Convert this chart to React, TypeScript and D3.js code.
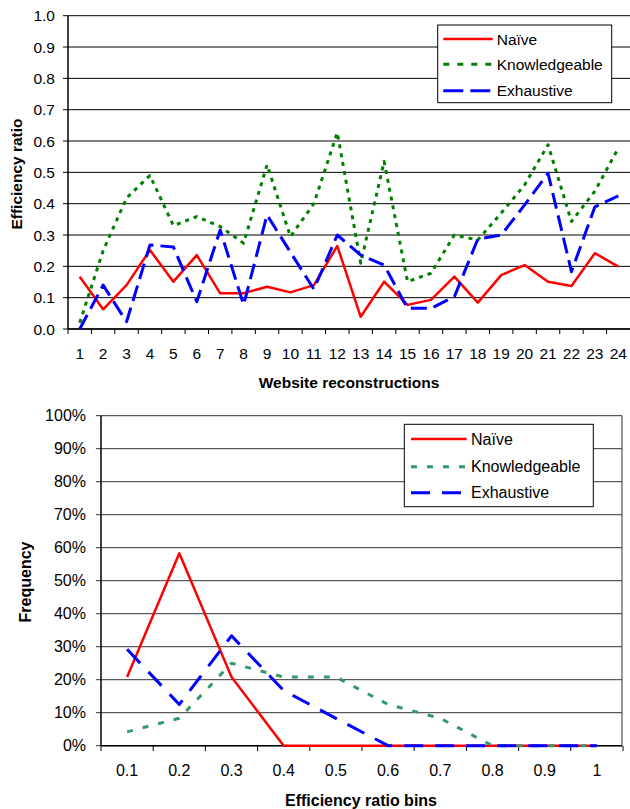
import React from 'react';
import * as d3 from 'd3';

const sites = d3.range(1, 25).map(String);
const naive = [0.167, 0.063, 0.14, 0.252, 0.151, 0.236, 0.114, 0.114, 0.135, 0.117, 0.14, 0.265, 0.039, 0.151, 0.077, 0.093, 0.167, 0.084, 0.172, 0.204, 0.151, 0.137, 0.242, 0.199];
const knowledgeable = [0.02, 0.25, 0.418, 0.49, 0.33, 0.359, 0.327, 0.274, 0.524, 0.295, 0.4, 0.627, 0.21, 0.535, 0.151, 0.178, 0.3, 0.284, 0.37, 0.46, 0.588, 0.343, 0.44, 0.577];
const exhaustive = [0.0, 0.14, 0.023, 0.268, 0.262, 0.087, 0.316, 0.077, 0.364, 0.245, 0.127, 0.3, 0.236, 0.204, 0.066, 0.066, 0.103, 0.287, 0.3, 0.396, 0.497, 0.183, 0.39, 0.425];
const topTicks = [0, 0.1, 0.2, 0.3, 0.4, 0.5, 0.6, 0.7, 0.8, 0.9, 1.0];

const bins = ['0.1', '0.2', '0.3', '0.4', '0.5', '0.6', '0.7', '0.8', '0.9', '1'];
const naiveFreq = [20.8, 58.3, 20.8, 0, 0, 0, 0, 0, 0, 0];
const knowFreq = [4.2, 8.3, 25, 20.8, 20.8, 12.5, 8.3, 0, 0, 0];
const exhFreq = [29.2, 12.5, 33.3, 16.7, 8.3, 0, 0, 0, 0, 0];
const bottomTicks = [0, 10, 20, 30, 40, 50, 60, 70, 80, 90, 100];

const seriesNames = ['Naïve', 'Knowledgeable', 'Exhaustive'];

const FONT = '"Liberation Sans", Arial, sans-serif';

export default function App() {
  // top chart
  const x1 = d3.scaleBand<string>().domain(sites).range([68, 630]).padding(0);
  const y1 = d3.scaleLinear().domain([0, 1]).range([329, 15.7]);
  const line1 = d3.line<number>().x((_, i) => (x1(sites[i]) as number) + x1.bandwidth() / 2).y((d) => y1(d));

  // bottom chart
  const x2 = d3.scaleBand<string>().domain(bins).range([101, 623]).padding(0);
  const y2 = d3.scaleLinear().domain([0, 100]).range([745.7, 415.7]);
  const line2 = d3.line<number>().x((_, i) => (x2(bins[i]) as number) + x2.bandwidth() / 2).y((d) => y2(d));

  const topStyles = [
    { color: '#FF0000', dash: undefined, legendDash: undefined, width: 2.5 },
    { color: '#008000', dash: '4,5', legendDash: '6,8', width: 3 },
    { color: '#0000FF', dash: '16,7', legendDash: '20,7', width: 3 },
  ];
  const botStyles = [
    { color: '#FF0000', dash: undefined, legendDash: undefined, width: 2.5 },
    { color: '#339966', dash: '6,10', legendDash: '6,10', width: 3 },
    { color: '#0000FF', dash: '19,12', legendDash: '19,12', width: 3 },
  ];
  const topData = [naive, knowledgeable, exhaustive];
  const botData = [naiveFreq, knowFreq, exhFreq];

  return (
    <svg width={630} height={809} style={{ position: 'absolute', left: 0, top: 0, background: '#fff' }} fontFamily={FONT}>
      <rect x={0} y={0} width={630} height={809} fill="#fff" />
      {/* ===== TOP CHART ===== */}
      {topTicks.map((t) => (
        <g key={'tg' + t}>
          <line x1={63} x2={630} y1={y1(t)} y2={y1(t)} stroke="#000" strokeWidth={1} />
          <text x={55} y={y1(t)} dy="0.36em" textAnchor="end" fontSize={15.5} fill="#000">{t.toFixed(1)}</text>
        </g>
      ))}
      <line x1={68} x2={68} y1={y1(1)} y2={y1(0)} stroke="#000" strokeWidth={1.5} />
      <line x1={68} x2={630} y1={y1(0)} y2={y1(0)} stroke="#000" strokeWidth={1.5} />
      {sites.map((s) => (
        <g key={'tx' + s}>
          <line x1={x1(s) as number} x2={x1(s) as number} y1={329} y2={334} stroke="#000" strokeWidth={1} />
          <text x={(x1(s) as number) + x1.bandwidth() / 2} y={353} dy="0.36em" textAnchor="middle" fontSize={15.5} fill="#000">{s}</text>
        </g>
      ))}
      <text x={349} y={382} dy="0.36em" textAnchor="middle" fontSize={15.5} fontWeight="bold" fill="#000">Website reconstructions</text>
      <text transform={`translate(16,174) rotate(-90)`} dy="0.36em" textAnchor="middle" fontSize={15.5} fontWeight="bold" fill="#000">Efficiency ratio</text>
      {topData.map((d, i) => (
        <path key={'tl' + i} d={line1(d) as string} fill="none" stroke={topStyles[i].color} strokeWidth={topStyles[i].width} strokeDasharray={topStyles[i].dash} strokeLinejoin="round" />
      ))}
      {/* top legend */}
      <rect x={437.7} y={25} width={174} height={77.7} fill="#fff" stroke="#000" strokeWidth={1} />
      {seriesNames.map((n, i) => {
        const yy = [39, 64.3, 90.7][i];
        return (
          <g key={'tlg' + i}>
            <line x1={443.3} x2={492.7} y1={yy} y2={yy} stroke={topStyles[i].color} strokeWidth={topStyles[i].width} strokeDasharray={topStyles[i].legendDash} />
            <text x={496.7} y={yy} dy="0.36em" fontSize={15.5} fill="#000">{n}</text>
          </g>
        );
      })}

      {/* ===== BOTTOM CHART ===== */}
      {bottomTicks.map((t) => (
        <g key={'bg' + t}>
          <line x1={96} x2={622} y1={y2(t)} y2={y2(t)} stroke="#333" strokeWidth={1} />
          <text x={86} y={y2(t)} dy="0.36em" textAnchor="end" fontSize={16} fill="#000">{t + '%'}</text>
        </g>
      ))}
      <line x1={622} x2={622} y1={y2(100)} y2={y2(0)} stroke="#333" strokeWidth={1} />
      <line x1={101} x2={101} y1={y2(100)} y2={y2(0)} stroke="#000" strokeWidth={1.5} />
      <line x1={101} x2={622} y1={y2(0)} y2={y2(0)} stroke="#000" strokeWidth={1.5} />
      {bins.map((b) => (
        <g key={'bx' + b}>
          <line x1={x2(b) as number} x2={x2(b) as number} y1={745.7} y2={751} stroke="#000" strokeWidth={1} />
          <text x={(x2(b) as number) + x2.bandwidth() / 2} y={770} dy="0.36em" textAnchor="middle" fontSize={16} fill="#000">{b}</text>
        </g>
      ))}
      <line x1={623} x2={623} y1={745.7} y2={751} stroke="#000" strokeWidth={1} />
      <text x={361} y={800} dy="0.36em" textAnchor="middle" fontSize={16} fontWeight="bold" fill="#000">Efficiency ratio bins</text>
      <text transform={`translate(25,582) rotate(-90)`} dy="0.36em" textAnchor="middle" fontSize={16} fontWeight="bold" fill="#000">Frequency</text>
      {botData.map((d, i) => (
        <path key={'bl' + i} d={line2(d) as string} fill="none" stroke={botStyles[i].color} strokeWidth={botStyles[i].width} strokeDasharray={botStyles[i].dash} strokeLinejoin="round" />
      ))}
      {/* bottom legend */}
      <rect x={404.3} y={424.3} width={189} height={82.4} fill="#fff" stroke="#000" strokeWidth={1} />
      {seriesNames.map((n, i) => {
        const yy = [439, 466.7, 492.7][i];
        return (
          <g key={'blg' + i}>
            <line x1={411} x2={466.7} y1={yy} y2={yy} stroke={botStyles[i].color} strokeWidth={botStyles[i].width} strokeDasharray={botStyles[i].legendDash} />
            <text x={471} y={yy} dy="0.36em" fontSize={16} fill="#000">{n}</text>
          </g>
        );
      })}
    </svg>
  );
}
